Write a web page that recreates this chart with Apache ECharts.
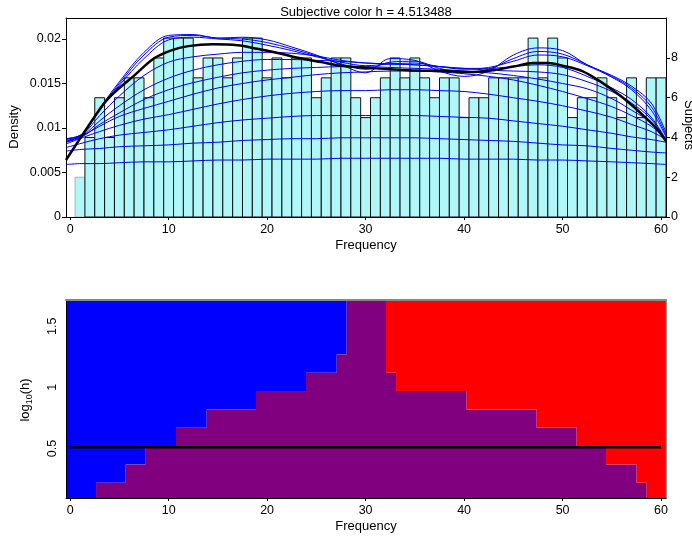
<!DOCTYPE html>
<html>
<head>
<meta charset="utf-8">
<script src="https://cdn.jsdelivr.net/npm/echarts@6/dist/echarts.min.js"></script>
<style>
  html, body { margin: 0; padding: 0; background: #fff; }
  #chart { width: 692px; height: 538px; }
</style>
</head>
<body>
<div id="chart"></div>
<script>
// histogram: unit bins centred on 1..60, number of subjects per bin
var binCenters = [1, 2, 3, 4, 5, 6, 7, 8, 9, 10, 11, 12, 13, 14, 15, 16, 17, 18, 19, 20,
                  21, 22, 23, 24, 25, 26, 27, 28, 29, 30, 31, 32, 33, 34, 35, 36, 37, 38, 39, 40,
                  41, 42, 43, 44, 45, 46, 47, 48, 49, 50, 51, 52, 53, 54, 55, 56, 57, 58, 59, 60];
var subjectCounts = [2, 4, 6, 4, 6, 7, 7, 6, 8, 9, 9, 9, 7, 8, 8, 7, 8, 9, 9, 7,
                     8, 7, 8, 8, 6, 7, 8, 8, 6, 5, 6, 7, 8, 7, 8, 7, 6, 7, 7, 5,
                     6, 6, 7, 7, 7, 7, 9, 7, 9, 8, 5, 6, 6, 7, 6, 5, 7, 5, 7, 7];

// family of density curves (blue), read at these frequencies
var curveX = [-0.42, 1.2, 3, 5, 7.5, 10, 12.5, 15, 17.5, 20, 22.5, 25, 27.5, 30, 32.5, 35,
              37.5, 40, 42.5, 45, 47.5, 50, 52.5, 55, 57, 59, 60.5];
var blue1 = [0.0088, 0.0093, 0.0122, 0.0152, 0.0185, 0.0204, 0.0205, 0.0201, 0.0202, 0.0199, 0.0191, 0.0182, 0.0171, 0.0162,
             0.0178, 0.0176, 0.0164, 0.0158, 0.0164, 0.0182, 0.0190, 0.0187, 0.0171, 0.0159, 0.0147, 0.0128, 0.0095];
var blue2 = [0.0088, 0.0093, 0.0121, 0.0150, 0.0182, 0.0202, 0.0204, 0.0201, 0.0200, 0.0196, 0.0189, 0.0181, 0.0172, 0.0166,
             0.0174, 0.0175, 0.0167, 0.0162, 0.0166, 0.0178, 0.0186, 0.0183, 0.0171, 0.0158, 0.0145, 0.0124, 0.0092];
var blue3 = [0.0087, 0.0093, 0.0120, 0.0148, 0.0178, 0.0199, 0.0202, 0.0200, 0.0198, 0.0193, 0.0187, 0.0180, 0.0174, 0.0170,
             0.0172, 0.0173, 0.0169, 0.0166, 0.0168, 0.0175, 0.0182, 0.0180, 0.0170, 0.0157, 0.0143, 0.0120, 0.0090];
var blue4 = [0.0086, 0.0092, 0.0114, 0.0136, 0.0159, 0.0174, 0.0180, 0.0183, 0.0185, 0.0185, 0.0184, 0.0181, 0.0176, 0.0173,
             0.0172, 0.0171, 0.0169, 0.0167, 0.0167, 0.0169, 0.0171, 0.0168, 0.0158, 0.0145, 0.0132, 0.0112, 0.0087];
var blue5 = [0.0085, 0.0091, 0.0108, 0.0125, 0.0143, 0.0156, 0.0165, 0.0171, 0.0175, 0.0177, 0.0177, 0.0176, 0.0175, 0.0173,
             0.0172, 0.0171, 0.0169, 0.0167, 0.0165, 0.0164, 0.0163, 0.0160, 0.0152, 0.0141, 0.0128, 0.0110, 0.0086];
var blue6 = [0.0084, 0.0090, 0.0104, 0.0117, 0.0132, 0.0143, 0.0151, 0.0157, 0.0162, 0.0165, 0.0167, 0.0168, 0.0169, 0.0169,
             0.0168, 0.0167, 0.0166, 0.0164, 0.0162, 0.0159, 0.0155, 0.0150, 0.0144, 0.0133, 0.0120, 0.0106, 0.0086];
var blue7 = [0.0084, 0.0091, 0.0102, 0.0113, 0.0122, 0.0130, 0.0138, 0.0145, 0.0150, 0.0154, 0.0157, 0.0160, 0.0162, 0.0163,
             0.0164, 0.0164, 0.0163, 0.0161, 0.0158, 0.0154, 0.0148, 0.0141, 0.0133, 0.0124, 0.0114, 0.0102, 0.0088];
var blue8 = [0.0082, 0.0089, 0.0096, 0.0103, 0.0110, 0.0115, 0.0121, 0.0127, 0.0132, 0.0136, 0.0139, 0.0141, 0.0142, 0.0142,
             0.0143, 0.0143, 0.0142, 0.0141, 0.0138, 0.0134, 0.0130, 0.0125, 0.0119, 0.0112, 0.0104, 0.0096, 0.0087];
var blue9 = [0.0078, 0.0083, 0.0088, 0.0092, 0.0095, 0.0098, 0.0102, 0.0106, 0.0109, 0.0111, 0.0113, 0.0114, 0.0114, 0.0114,
             0.0114, 0.0114, 0.0113, 0.0112, 0.0111, 0.0108, 0.0105, 0.0102, 0.0098, 0.0094, 0.0090, 0.0087, 0.0084];
var blue10 = [0.0074, 0.0076, 0.0077, 0.0079, 0.0080, 0.0081, 0.0083, 0.0084, 0.0086, 0.0087, 0.0088, 0.0088, 0.0089, 0.0089,
              0.0089, 0.0089, 0.0088, 0.0087, 0.0086, 0.0085, 0.0083, 0.0081, 0.0080, 0.0077, 0.0075, 0.0073, 0.0072];
var blue11 = [0.0059, 0.0060, 0.0060, 0.0061, 0.0062, 0.0062, 0.0063, 0.0064, 0.0064, 0.0065, 0.0065, 0.0065, 0.0066, 0.0066,
              0.0066, 0.0066, 0.0066, 0.0065, 0.0065, 0.0065, 0.0064, 0.0064, 0.0063, 0.0062, 0.0061, 0.0060, 0.0059];
var blueCurves = [blue1, blue2, blue3, blue4, blue5, blue6, blue7, blue8, blue9, blue10, blue11];

// selected bandwidth curve (black)
var blackX = [-0.42, 1, 2.5, 3.7, 5, 6.4, 8.5, 10.2, 12, 14.5, 17, 19, 21.2, 23.5, 25.5, 27.5,
              31, 34.3, 38, 41, 43, 45, 47, 48.5, 50, 52, 54, 56, 58, 59.5, 60.5];
var blackY = [0.0064, 0.0088, 0.0113, 0.0131, 0.0145, 0.0158, 0.0178, 0.0187, 0.0192, 0.0194, 0.0193, 0.0189, 0.0184, 0.0178, 0.0174, 0.0170,
              0.0167, 0.0165, 0.0164, 0.0163, 0.0165, 0.0169, 0.0173, 0.0173, 0.0170, 0.0164, 0.0151, 0.0135, 0.0116, 0.0100, 0.0085];

// significance map: rows of log10(h), blue up to blueEnd, red from redStart
var logHEdges = [0.095, 0.22, 0.37, 0.52, 0.67, 0.82, 0.97, 1.12, 1.27, 1.42, 1.57, 1.715];
var blueEnd  = [2.63, 5.64, 7.68, 10.75, 13.87, 18.87, 23.95, 27.07, 28.08, 28.08, 28.08];
var redStart = [58.54, 57.52, 54.41, 51.43, 47.37, 40.26, 33.09, 32.07, 32.07, 32.07, 32.07];
var chosenLogH = 0.51;

var xTicks = [0, 10, 20, 30, 40, 50, 60];
var densityTicks = [0, 0.005, 0.01, 0.015, 0.02];
var subjectTicks = [0, 2, 4, 6, 8];
var logHTicks = [0.5, 1, 1.5];

var FONT = '"Liberation Sans", Arial, sans-serif';
var XMIN = -0.42, XMAX = 60.5;
var mapColors = ['#0000ff', '#800080', '#ff0000'];

var chart = echarts.init(document.getElementById('chart'));

function bottomX(grid) {
    return {
        type: 'value', gridIndex: grid, position: 'bottom', min: XMIN, max: XMAX, z: 10,
        axisLine: { show: true, onZero: false, lineStyle: { color: '#000', width: 1 } },
        axisTick: { show: true, length: 3, customValues: xTicks, lineStyle: { color: '#000' } },
        axisLabel: { customValues: xTicks, color: '#000', fontSize: 12.5, margin: 6, fontFamily: FONT },
        splitLine: { show: false },
        name: 'Frequency', nameLocation: 'middle', nameGap: 22,
        nameTextStyle: { color: '#000', fontSize: 13, fontFamily: FONT }
    };
}
function frameAxis(grid, pos, color, width, isX) {
    var a = {
        type: 'value', gridIndex: grid, position: pos, z: 10,
        axisLine: { show: true, onZero: false, lineStyle: { color: color, width: width } },
        axisTick: { show: false }, axisLabel: { show: false }, splitLine: { show: false }
    };
    if (isX) { a.min = XMIN; a.max = XMAX; } else { a.min = 0; a.max = 1; }
    return a;
}

// one polygon per colour region of the map, traced through the row steps
function regionPolygon(api, leftOf, rightOf) {
    var pts = [];
    var n = blueEnd.length;
    for (var i = 0; i < n; i++) {
        pts.push(api.coord([leftOf(i), logHEdges[i]]));
        pts.push(api.coord([leftOf(i), logHEdges[i + 1]]));
    }
    for (var j = n - 1; j >= 0; j--) {
        pts.push(api.coord([rightOf(j), logHEdges[j + 1]]));
        pts.push(api.coord([rightOf(j), logHEdges[j]]));
    }
    return pts;
}

var series = [];
series.push({
    type: 'custom', xAxisIndex: 0, yAxisIndex: 1, z: 1,
    data: binCenters.map(function (c, i) { return [c, subjectCounts[i]]; }),
    renderItem: function (params, api) {
        var x = api.value(0), n = api.value(1);
        var p0 = api.coord([x - 0.5, n]);
        var p1 = api.coord([x + 0.5, 0]);
        return {
            type: 'rect',
            shape: { x: p0[0], y: p0[1], width: p1[0] - p0[0], height: p1[1] - p0[1] },
            style: { fill: '#b0f7fa', stroke: params.dataIndex === 0 ? '#a8b4b4' : '#111', lineWidth: 1 }
        };
    }
});
blueCurves.forEach(function (c) {
    series.push({
        type: 'line', xAxisIndex: 0, yAxisIndex: 0, z: 3, smooth: 0.35, symbol: 'none',
        data: curveX.map(function (x, i) { return [x, c[i]]; }),
        lineStyle: { color: '#0000ff', width: 1 }
    });
});
series.push({
    type: 'line', xAxisIndex: 0, yAxisIndex: 0, z: 4, smooth: 0.35, symbol: 'none',
    data: blackX.map(function (x, i) { return [x, blackY[i]]; }),
    lineStyle: { color: '#000', width: 2.5 }
});
series.push({
    type: 'custom', xAxisIndex: 1, yAxisIndex: 2, z: 1,
    data: [[0], [1], [2]],
    renderItem: function (params, api) {
        var k = api.value(0);
        var pts;
        if (k === 0) {
            pts = regionPolygon(api, function () { return XMIN; }, function (i) { return blueEnd[i]; });
        } else if (k === 1) {
            pts = regionPolygon(api, function (i) { return blueEnd[i]; }, function (i) { return redStart[i]; });
        } else {
            pts = regionPolygon(api, function (i) { return redStart[i]; }, function () { return XMAX; });
        }
        return { type: 'polygon', shape: { points: pts }, style: { fill: mapColors[k] } };
    }
});
series.push({
    type: 'line', xAxisIndex: 1, yAxisIndex: 2, z: 5, symbol: 'none',
    data: [[0, chosenLogH], [60, chosenLogH]],
    lineStyle: { color: '#000', width: 2.5 }
});

var option = {
    animation: false,
    backgroundColor: '#fff',
    grid: [
        { left: 66, top: 18, width: 600, height: 199, outerBoundsMode: 'none' },
        { left: 66, top: 300, width: 600, height: 198, outerBoundsMode: 'none' }
    ],
    xAxis: [
        bottomX(0),
        bottomX(1),
        frameAxis(0, 'top', '#000', 1, true),
        frameAxis(1, 'top', '#888', 2, true)
    ],
    yAxis: [
        {
            type: 'value', gridIndex: 0, position: 'left', min: 0, max: 0.02236, z: 10,
            axisLine: { show: true, onZero: false, lineStyle: { color: '#000', width: 1 } },
            axisTick: { show: true, length: 4, customValues: densityTicks, lineStyle: { color: '#000' } },
            axisLabel: { customValues: densityTicks, color: '#000', fontSize: 12.5, margin: 5, fontFamily: FONT },
            splitLine: { show: false }
        },
        {
            type: 'value', gridIndex: 0, position: 'right', min: 0, max: 10.01, z: 10,
            axisLine: { show: true, onZero: false, lineStyle: { color: '#000', width: 1 } },
            axisTick: { show: true, length: 4, customValues: subjectTicks, lineStyle: { color: '#000' } },
            axisLabel: { customValues: subjectTicks, color: '#000', fontSize: 12.5, margin: 5, fontFamily: FONT },
            splitLine: { show: false }
        },
        {
            type: 'value', gridIndex: 1, position: 'left', min: 0.095, max: 1.715, z: 10,
            axisLine: { show: true, onZero: false, lineStyle: { color: '#000', width: 1 } },
            axisTick: { show: false },
            axisLabel: { customValues: logHTicks, rotate: 90, color: '#000', fontSize: 12.5, margin: 7, fontFamily: FONT },
            splitLine: { show: false }
        },
        frameAxis(1, 'right', '#666', 1.5, false)
    ],
    graphic: [
        { type: 'text', x: 366, y: 12, style: { text: 'Subjective color h = 4.513488', font: '13px ' + FONT, fill: '#000', align: 'center', verticalAlign: 'middle' } },
        { type: 'text', x: 14.5, y: 127, rotation: Math.PI / 2, style: { text: 'Density', font: '13px ' + FONT, fill: '#000', align: 'center', verticalAlign: 'middle' } },
        { type: 'text', x: 689, y: 125, rotation: -Math.PI / 2, style: { text: 'Subjects', font: '13px ' + FONT, fill: '#000', align: 'center', verticalAlign: 'middle' } },
        {
            type: 'text', x: 25, y: 400, rotation: Math.PI / 2,
            style: {
                text: '{a|log}{b|10}{a|(h)}', align: 'center', verticalAlign: 'middle',
                rich: {
                    a: { fontSize: 13, fontFamily: FONT, fill: '#000', lineHeight: 18 },
                    b: { fontSize: 9, fontFamily: FONT, fill: '#000', lineHeight: 10, verticalAlign: 'bottom' }
                }
            }
        }
    ],
    series: series
};
chart.setOption(option);
</script>
</body>
</html>
